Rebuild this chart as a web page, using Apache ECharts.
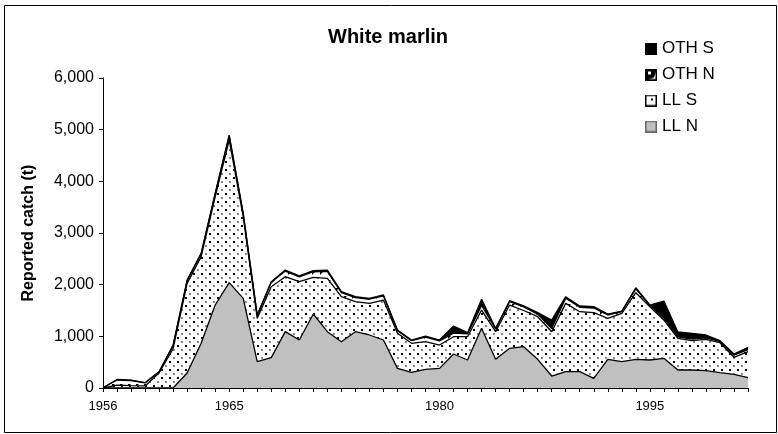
<!DOCTYPE html>
<html><head><meta charset="utf-8">
<script src="https://cdn.jsdelivr.net/npm/echarts@6/dist/echarts.min.js"></script>
<style>html,body{margin:0;padding:0;background:#fff}#c{width:778px;height:434px}</style>
</head><body><div id="c"></div>
<script>
const years = ['1956','1957','1958','1959','1960','1961','1962','1963','1964','1965',
  '1966','1967','1968','1969','1970','1971','1972','1973','1974','1975',
  '1976','1977','1978','1979','1980','1981','1982','1983','1984','1985',
  '1986','1987','1988','1989','1990','1991','1992','1993','1994','1995',
  '1996','1997','1998','1999','2000','2001','2002'];
const llN = [0,0,0,0,0,0,290,865,1606,2040,
  1735,510,587,1090,929,1432,1090,897,1090,1026,
  929,380,303,361,380,658,542,1155,555,768,
  800,555,232,316,316,187,555,510,555,542,
  574,348,348,335,297,264,200];
const llS = [0,55,45,40,290,760,1735,1676,2096,2760,
  1580,838,1373,1064,1128,708,1032,870,580,612,
  774,678,562,536,452,335,451,354,535,838,
  700,825,858,1322,1161,1271,793,935,1290,1032,
  742,613,568,607,580,330,503];
const othN = [5,100,100,60,25,60,55,55,55,80,
  55,55,85,110,95,110,135,80,80,80,
  80,50,50,90,80,70,55,90,50,65,
  70,50,60,100,85,90,65,35,75,25,
  40,30,30,30,25,40,40];
const othS = [0,10,8,3,0,10,10,10,10,16,
  10,9,12,19,18,20,26,17,17,17,
  17,14,14,19,17,137,23,117,15,19,
  20,30,166,29,25,26,19,10,21,7,
  327,93,112,54,14,24,44];
const xTickLabels = ['1956','1965','1980','1995'];

function mk(w,h,draw){const c=document.createElement('canvas');c.width=w;c.height=h;const g=c.getContext('2d');draw(g);return c;}
const dotCanvas = mk(8,8,g=>{g.fillStyle='#fff';g.fillRect(0,0,8,8);g.fillStyle='#000';g.fillRect(1,1,2,2);g.fillStyle='#888';g.fillRect(5,5,2,2);});
const hatchCanvas = mk(8,8,g=>{g.fillStyle='#fff';g.fillRect(0,0,8,8);g.fillStyle='#000';
  g.beginPath();g.moveTo(0,0);g.lineTo(3,0);g.lineTo(0,3);g.closePath();g.fill();});
const iconOTHS = mk(12,12,g=>{g.fillStyle='#000';g.fillRect(0,0,12,12);});
const iconOTHN = mk(12,12,g=>{g.fillStyle='#fff';g.fillRect(0,0,12,12);g.fillStyle='#000';
  g.beginPath();g.moveTo(0,0);g.lineTo(12,0);g.lineTo(9,9);g.lineTo(0,12);g.closePath();g.fill();
  g.fillStyle='#fff';g.fillRect(3,3,3,3);g.strokeStyle='#000';g.lineWidth=1.5;g.strokeRect(0.75,0.75,10.5,10.5);});
const iconLLS = mk(12,12,g=>{g.fillStyle='#fff';g.fillRect(0,0,12,12);g.strokeStyle='#000';g.lineWidth=1.5;g.strokeRect(0.75,0.75,10.5,10.5);g.fillStyle='#000';g.fillRect(6,4,2,2);});
const iconLLN = mk(12,12,g=>{g.fillStyle='#c0c0c0';g.fillRect(0,0,12,12);g.strokeStyle='#666';g.lineWidth=1.5;g.strokeRect(0.75,0.75,10.5,10.5);});

const font = 'Liberation Sans, Arial, sans-serif';
function ser(name, data, fill){
  return {name, type:'line', stack:'total', data, symbol:'none', showSymbol:false,
    lineStyle:{color:'#000', width:1.3}, itemStyle:{color:'#000'},
    areaStyle:{color:fill, opacity:1}};
}
const chart = echarts.init(document.getElementById('c'));
chart.setOption({
  animation:false,
  backgroundColor:'#fff',
  textStyle:{fontFamily:font},
  title:{text:'White marlin', left:323, top:22, textStyle:{fontFamily:font, fontSize:20, fontWeight:'bold', color:'#000'}},
  legend:{orient:'vertical', left:640, top:35, itemWidth:12, itemHeight:12, itemGap:9,
    textStyle:{fontFamily:font, fontSize:17, color:'#000'},
    data:[
      {name:'OTH S', icon:'image://'+iconOTHS.toDataURL()},
      {name:'OTH N', icon:'image://'+iconOTHN.toDataURL()},
      {name:'LL S', icon:'image://'+iconLLS.toDataURL()},
      {name:'LL N', icon:'image://'+iconLLN.toDataURL()}
    ]},
  grid:{left:103, right:30, top:78, bottom:46, containLabel:false},
  graphic:[{type:'rect', shape:{x:4.5, y:5.5, width:772, height:427}, style:{fill:'none', stroke:'#000', lineWidth:1}, silent:true}],
  xAxis:{type:'category', data:years, boundaryGap:false,
    axisLine:{lineStyle:{color:'#000', width:1}},
    axisTick:{show:true, interval:0, length:4, lineStyle:{color:'#000'}},
    axisLabel:{interval:(i,v)=>xTickLabels.indexOf(v)>=0, fontSize:13, color:'#000', margin:12, fontFamily:font},
    splitLine:{show:false}},
  yAxis:{type:'value', min:0, max:6000, interval:1000,
    name:'Reported catch (t)', nameLocation:'middle', nameRotate:90, nameGap:66,
    nameTextStyle:{fontFamily:font, fontSize:16, fontWeight:'bold', color:'#000'},
    axisLine:{show:true, lineStyle:{color:'#000', width:1}},
    axisTick:{show:true, length:4, lineStyle:{color:'#000'}},
    axisLabel:{fontSize:16, color:'#000', margin:9, fontFamily:font,
      formatter:v=>v.toLocaleString('en-US')},
    splitLine:{show:false}},
  series:[
    ser('LL N', llN, '#c0c0c0'),
    ser('LL S', llS, {image:dotCanvas, repeat:'repeat'}),
    ser('OTH N', othN, {image:hatchCanvas, repeat:'repeat'}),
    ser('OTH S', othS, '#000')
  ]
});
</script></body></html>
